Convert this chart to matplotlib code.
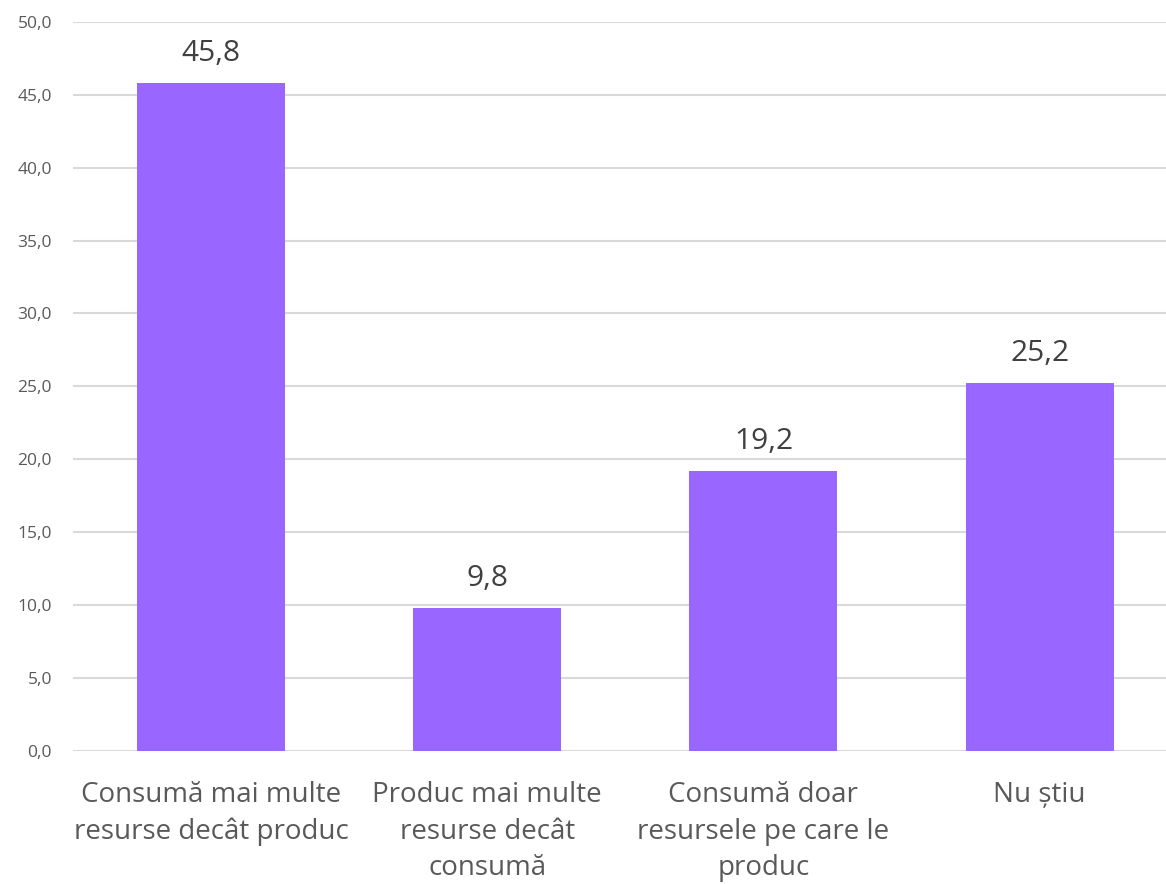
import matplotlib
matplotlib.use("Agg")
import matplotlib.pyplot as plt
from matplotlib.ticker import MultipleLocator, FuncFormatter

categories = ["Consumă mai multe\nresurse decât produc",
              "Produc mai multe\nresurse decât\nconsumă",
              "Consumă doar\nresursele pe care le\nproduc",
              "Nu știu"]
values = [45.8, 9.8, 19.2, 25.2]

plt.rcParams['font.family'] = ['Open Sans', 'DejaVu Sans']
text_color = "#595959"

fig = plt.figure(figsize=(11.66, 8.84), dpi=100)
ax = fig.add_axes([72.8/1166, 1-750.7/884, 1105/1166, (750.7-22)/884])

x = range(len(categories))
bars = ax.bar(x, values, width=0.536, color="#9966FF", zorder=3)
ax.set_xlim(-0.5, len(categories)-0.5)
ax.set_ylim(0, 50)
ax.yaxis.set_major_locator(MultipleLocator(5))
ax.yaxis.set_major_formatter(FuncFormatter(lambda v, p: f"{v:.1f}".replace(".", ",")))
ax.grid(axis="y", color="#D9D9D9", linewidth=1.5, zorder=0)
for s in ax.spines.values():
    s.set_visible(False)
ax.tick_params(axis="both", length=0)
ax.tick_params(axis="y", labelsize=12.5, labelcolor=text_color, pad=15)
ax.set_xticks(list(x))
ax.set_xticklabels(categories, fontsize=20, color=text_color, linespacing=1.4)
ax.tick_params(axis="x", pad=22)

for b, v in zip(bars, values):
    ax.annotate(f"{v:.1f}".replace(".", ","), (b.get_x()+b.get_width()/2, v),
                xytext=(0, 11), textcoords="offset points", ha="center", va="bottom",
                fontsize=21.5, color="#404040")

fig.savefig("out.png", dpi=100)
